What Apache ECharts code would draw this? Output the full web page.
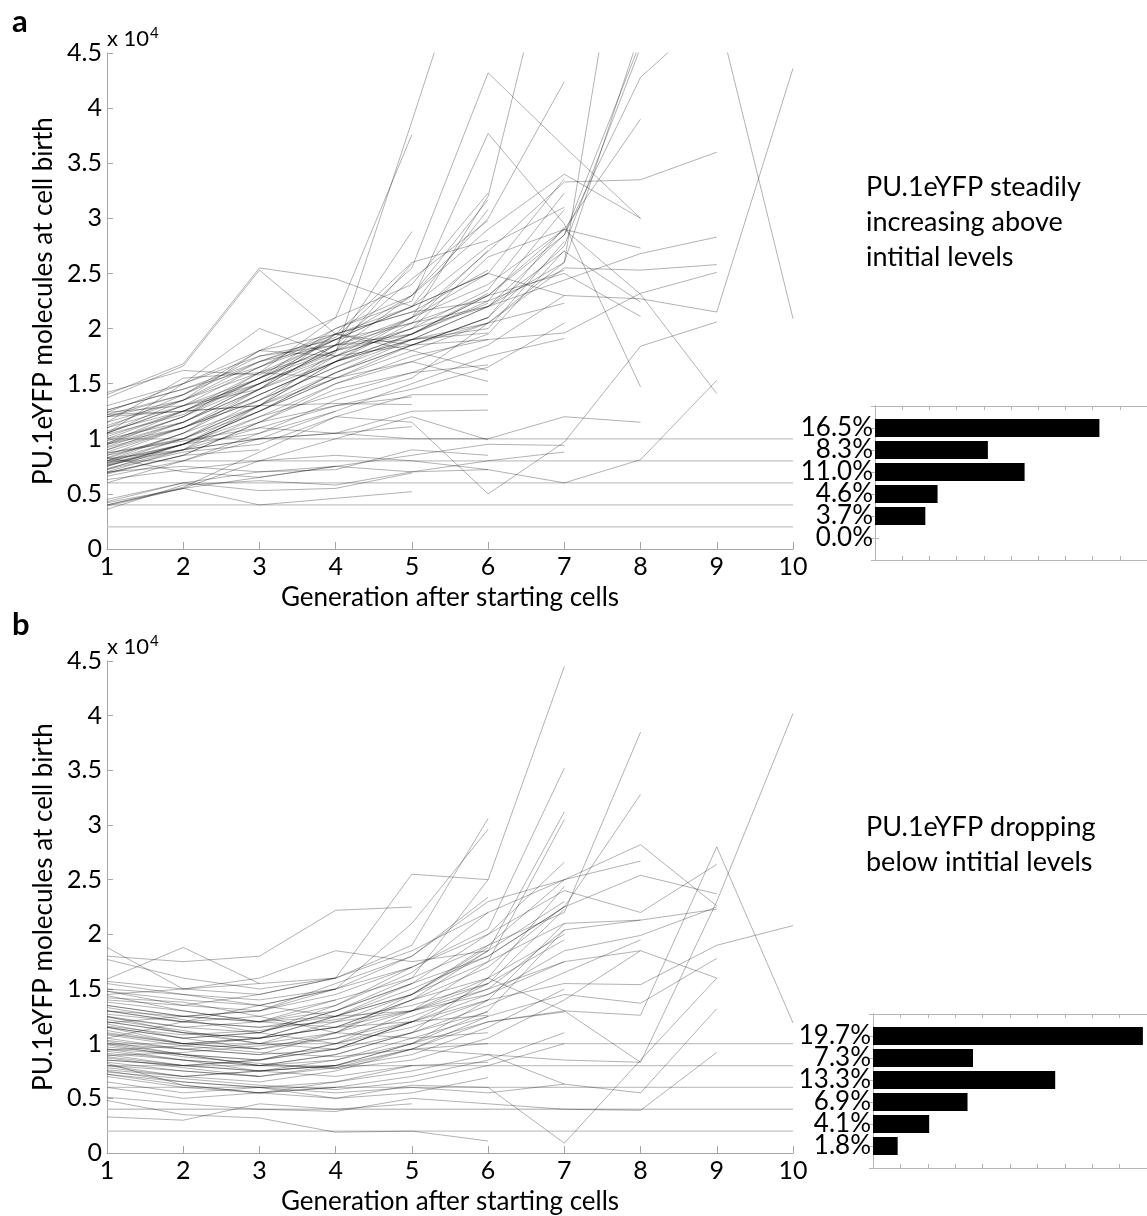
<!DOCTYPE html>
<html>
<head>
<meta charset="utf-8">
<script src="https://cdn.jsdelivr.net/npm/echarts@6/dist/echarts.min.js"></script>
<style>
html,body{margin:0;padding:0;background:#fff}
#main{width:1147px;height:1216px}
</style>
</head>
<body>
<div id="main"></div>
<script>
// generations on the x axis
var gens = [1, 2, 3, 4, 5, 6, 7, 8, 9, 10];
// grey reference levels (x 10^4 molecules)
var levels = [0.2, 0.4, 0.6, 0.8, 1.0];
// histogram percentages per 0.2 x 10^4 bin, bottom (0-0.2) to top (1.0-1.2)
var pctA = [0.0, 3.7, 4.6, 11.0, 8.3, 16.5];
var pctB = [1.8, 4.1, 6.9, 13.3, 7.3, 19.7];

// a: one trace per lineage, PU.1eYFP at birth (x 10^4), generation 1 onward
var linesA = [
  [1.40, 1.68, 2.55, 2.45, 2.20, 2.75, 3.10],
  [1.37, 1.66, 2.53, 1.95, 1.85, 2.10],
  [1.42, 1.62, 1.58, 1.90, 2.05, 2.30, 2.85, 4.28, 4.90, 2.09],
  [1.26, 1.45, 1.70, 1.92, 2.55, 4.32, 3.65, 3.00],
  [1.24, 1.30, 1.55, 2.00, 2.25, 3.77, 2.95, 1.47],
  [0.96, 1.20, 1.60, 2.10, 3.76],
  [1.05, 1.30, 1.50, 1.78, 3.88, 6.00],
  [0.90, 1.10, 1.40, 1.70, 2.10, 3.20, 6.00],
  [0.80, 1.00, 1.30, 1.60, 1.90, 2.20, 2.60, 6.80],
  [1.02, 1.25, 1.50, 1.75, 2.00, 2.20, 2.85, 4.60],
  [0.76, 0.95, 1.25, 1.60, 1.85, 2.10, 2.75, 4.55],
  [1.10, 1.30, 1.45, 1.70, 1.95, 2.30, 2.90, 3.90],
  [0.85, 1.10, 1.35, 1.65, 1.90, 2.05, 2.60, 4.70],
  [1.20, 1.40, 1.80, 1.75, 2.10, 2.70, 3.33, 3.35, 3.60],
  [0.93, 1.15, 1.45, 1.85, 2.05, 2.20, 2.44, 2.68, 2.83],
  [0.82, 1.05, 1.30, 1.55, 1.80, 2.05, 2.55, 2.53, 2.58],
  [0.70, 0.90, 1.20, 1.50, 1.75, 1.90, 1.96, 2.32, 2.51],
  [0.72, 0.88, 0.95, 1.20, 1.15, 0.50, 0.97, 1.84, 2.06],
  [0.63, 0.72, 0.80, 0.85, 0.80, 0.72, 0.60, 0.81, 1.53],
  [0.98, 1.20, 1.50, 1.80, 2.10, 2.40, 2.90, 2.31, 1.41],
  [1.15, 1.35, 1.65, 1.95, 2.20, 2.50, 2.30, 2.27, 2.15, 4.36],
  [0.87, 0.98, 1.10, 1.05, 1.00, 1.00, 1.20, 1.15],
  [1.07, 1.25, 1.60, 1.80, 2.30, 2.90, 3.40, 3.00],
  [0.95, 1.15, 1.45, 1.75, 2.00, 2.65, 2.90, 2.73],
  [0.79, 0.95, 1.30, 1.70, 1.90, 2.20, 2.70, 2.24],
  [1.04, 1.22, 1.55, 1.85, 1.95, 2.30, 2.50, 2.11],
  [1.12, 1.35, 1.60, 1.90, 2.30, 3.00, 4.24],
  [1.00, 1.25, 1.55, 1.85, 2.10, 2.50, 3.36],
  [0.90, 1.15, 1.50, 1.80, 2.00, 2.35, 3.23],
  [0.78, 1.00, 1.35, 1.65, 1.95, 2.25, 3.08],
  [0.75, 0.95, 1.25, 1.55, 1.85, 2.10, 2.92],
  [0.83, 1.05, 1.40, 1.70, 1.90, 2.00, 2.79],
  [0.69, 0.85, 1.15, 1.50, 1.70, 1.95, 2.71],
  [1.22, 1.40, 1.70, 1.95, 2.15, 2.25, 2.53],
  [0.77, 0.95, 1.20, 1.40, 1.60, 1.85, 2.30],
  [0.66, 0.80, 1.05, 1.35, 1.55, 2.05, 2.23],
  [0.73, 0.90, 1.10, 1.30, 1.45, 1.65, 2.05],
  [0.60, 0.80, 1.00, 1.25, 1.50, 1.75, 1.91],
  [0.45, 0.60, 0.70, 0.75, 0.85, 0.95, 0.94],
  [0.42, 0.55, 0.65, 0.75, 0.70, 0.80, 0.88],
  [1.30, 1.50, 1.80, 2.10, 2.40, 3.23],
  [1.05, 1.30, 1.65, 2.00, 2.30, 3.17],
  [0.95, 1.20, 1.55, 1.90, 2.20, 3.08],
  [0.88, 1.10, 1.45, 1.85, 2.45, 2.98],
  [1.20, 1.35, 1.80, 1.95, 2.60, 2.80],
  [0.85, 1.00, 1.30, 1.70, 2.05, 2.71],
  [0.80, 1.05, 1.45, 1.95, 2.15, 2.53],
  [1.10, 1.40, 1.75, 1.90, 2.20, 2.50],
  [0.76, 0.90, 1.30, 1.80, 1.95, 2.32],
  [0.92, 1.10, 1.40, 1.70, 1.95, 2.23],
  [0.72, 0.95, 1.25, 1.60, 1.85, 2.05],
  [1.24, 1.50, 1.75, 1.85, 1.90, 1.96],
  [0.68, 0.85, 1.15, 1.45, 1.60, 1.67],
  [1.00, 1.15, 1.50, 1.95, 1.80, 1.62],
  [0.87, 1.00, 1.25, 1.55, 1.70, 1.52],
  [0.40, 0.56, 0.88, 1.20, 1.40, 1.40],
  [0.82, 0.90, 1.00, 1.05, 1.25, 1.26],
  [0.39, 0.55, 0.80, 1.00, 1.20, 0.99],
  [0.70, 0.75, 0.70, 0.72, 0.90, 0.85],
  [0.36, 0.58, 0.62, 0.58, 0.70, 0.72],
  [1.05, 1.50, 2.00, 1.75, 1.85, 1.90],
  [1.05, 1.35, 1.70, 1.85, 2.88],
  [0.96, 1.25, 1.55, 1.80, 2.59],
  [0.80, 0.95, 1.15, 1.30, 1.38],
  [1.22, 1.25, 1.30, 1.32, 1.31],
  [0.78, 0.90, 1.00, 1.05, 1.11],
  [0.43, 0.60, 0.53, 0.55, 0.69],
  [0.40, 0.55, 0.40, 0.46, 0.52],
  [1.26, 1.45, 1.65, 1.90],
  [0.95, 1.10, 1.35, 1.75],
  [0.75, 0.95, 1.05, 1.25],
  [1.15, 1.55, 1.60, 1.55],
  [0.83, 0.70, 0.65, 0.75],
  [1.20, 1.25, 1.30],
  [0.69, 0.85, 0.90]
];

// b: same, for the lineages dropping below their initial level
var linesB = [
  [1.25, 1.10, 1.05, 1.15, 1.40, 1.60, 1.30, 1.26, 2.80, 1.19],
  [0.95, 0.90, 0.85, 1.00, 1.20, 1.40, 1.55, 1.54, 1.90, 2.08],
  [0.80, 0.75, 0.70, 0.80, 0.95, 0.90, 0.85, 0.83, 2.30, 4.02],
  [1.35, 1.25, 1.30, 1.45, 1.70, 2.00, 2.40, 2.20, 2.64],
  [1.15, 1.05, 1.10, 1.30, 1.55, 1.80, 2.25, 2.54, 2.37],
  [1.48, 1.35, 1.30, 1.50, 1.80, 2.30, 2.50, 2.82, 2.26],
  [1.05, 0.95, 1.00, 1.20, 1.45, 1.75, 2.10, 2.13, 2.23],
  [0.90, 0.80, 0.85, 0.95, 1.20, 1.45, 1.85, 1.99, 2.25],
  [0.76, 0.70, 0.75, 0.85, 1.05, 1.25, 1.45, 1.37, 1.78],
  [1.20, 1.10, 1.00, 1.10, 1.30, 1.50, 1.75, 1.85, 1.60],
  [0.70, 0.60, 0.55, 0.65, 0.75, 0.90, 0.63, 0.55, 1.32],
  [0.51, 0.45, 0.40, 0.38, 0.50, 0.45, 0.40, 0.39, 0.92],
  [1.30, 1.20, 1.25, 1.40, 1.60, 1.90, 2.20, 3.85],
  [1.10, 1.00, 1.05, 1.25, 1.50, 1.80, 2.25, 3.28],
  [1.57, 1.50, 1.45, 1.60, 1.85, 2.20, 2.50, 2.67],
  [0.85, 0.80, 0.75, 0.80, 1.00, 1.20, 1.30, 0.83],
  [1.00, 0.90, 0.80, 0.85, 1.00, 1.30, 2.04, 2.13],
  [0.72, 0.62, 0.55, 0.50, 0.62, 0.60, 0.09, 0.85, 1.60],
  [1.24, 1.15, 1.10, 1.30, 1.60, 2.50, 4.45],
  [1.44, 1.30, 1.20, 1.35, 1.70, 2.05, 3.52],
  [1.09, 1.00, 0.95, 1.10, 1.40, 1.85, 3.12],
  [0.97, 0.90, 0.85, 1.00, 1.30, 1.75, 3.05],
  [1.35, 1.25, 1.20, 1.30, 1.55, 2.00, 2.66],
  [1.30, 1.20, 1.15, 1.25, 1.45, 1.90, 2.50],
  [0.91, 0.85, 0.80, 0.90, 1.10, 1.60, 2.44],
  [1.20, 1.10, 1.05, 1.15, 1.40, 1.70, 2.26],
  [1.03, 0.95, 0.90, 0.95, 1.20, 1.55, 2.23],
  [0.85, 0.80, 0.75, 0.80, 1.00, 1.40, 2.10],
  [1.15, 1.00, 0.95, 1.05, 1.25, 1.50, 2.04],
  [0.80, 0.70, 0.65, 0.75, 0.95, 1.20, 1.29],
  [0.75, 0.65, 0.60, 0.55, 0.60, 0.55, 0.63],
  [1.59, 1.88, 1.55, 1.60, 1.90, 3.06],
  [1.48, 1.40, 1.35, 1.50, 2.10, 2.96],
  [1.77, 1.60, 1.50, 1.60, 2.55, 2.50],
  [1.30, 1.25, 1.30, 1.55, 1.80, 2.34],
  [1.15, 1.05, 1.10, 1.35, 1.65, 2.20],
  [1.00, 0.95, 0.90, 1.10, 1.45, 1.88],
  [1.88, 1.50, 1.60, 1.85, 1.75, 1.85],
  [0.95, 0.85, 0.80, 0.90, 1.10, 1.29],
  [1.38, 1.30, 1.20, 1.15, 1.20, 1.26],
  [0.78, 0.70, 0.75, 0.70, 0.80, 0.83],
  [0.65, 0.55, 0.60, 0.50, 0.55, 0.69],
  [0.48, 0.35, 0.32, 0.19, 0.20, 0.11],
  [1.12, 1.00, 1.05, 1.25, 1.55],
  [0.88, 0.80, 0.85, 0.95, 1.20],
  [0.72, 0.65, 0.60, 0.65, 0.80],
  [0.33, 0.30, 0.45, 0.40, 0.45],
  [1.55, 1.45, 1.40, 1.50, 1.70],
  [1.80, 1.75, 1.80, 2.22, 2.25],
  [1.25, 1.15, 1.20, 1.40],
  [0.93, 0.85, 0.75, 0.80],
  [1.40, 1.35, 1.45, 1.60],
  [0.60, 0.50, 0.55, 0.60],
  [1.05, 1.20, 1.35, 1.50],
  [1.18, 1.05, 0.95],
  [0.83, 0.75, 0.70],
  [1.45, 1.50, 1.55],
  [1.27, 1.20, 1.15, 1.20, 1.30, 1.45, 1.75],
  [1.22, 1.12, 1.00, 0.95, 1.10, 1.35, 1.65, 1.95],
  [1.02, 0.90, 0.80, 0.78, 0.90, 1.15, 1.50],
  [0.87, 0.78, 0.70, 0.78, 0.95, 1.25],
  [1.33, 1.22, 1.10, 1.00, 1.15, 1.40],
  [0.99, 0.88, 0.82, 0.77, 0.85, 1.05, 1.40, 1.85],
  [1.16, 1.08, 1.12, 1.22, 1.35, 1.55, 1.95],
  [0.74, 0.68, 0.62, 0.58, 0.65, 0.80, 1.00],
  [1.42, 1.38, 1.25, 1.10, 1.05, 1.10],
  [0.94, 0.98, 1.05, 1.15, 1.30, 1.60, 2.00],
  [1.08, 0.98, 0.92, 0.88, 0.95, 1.00],
  [0.82, 0.62, 0.55, 0.60, 0.70, 0.85, 1.10],
  [1.50, 1.45, 1.35, 1.25, 1.30, 1.55],
  [0.89, 0.92, 0.98, 1.05, 1.20],
  [1.19, 1.25, 1.20, 1.25, 1.45, 1.85, 2.30]
];

var FONT = 'Lato';
var AXIS_GREY = '#a6a6a6';
var BOX_GREY = '#b5b5b5';

function mainX(grid) {
  return {
    gridIndex: grid, type: 'value', min: 1, max: 10, interval: 1,
    name: 'Generation after starting cells', nameLocation: 'middle', nameGap: 36,
    nameTextStyle: {fontFamily: FONT, fontSize: 26, color: '#000'},
    axisLine: {lineStyle: {color: AXIS_GREY, width: 1}},
    axisTick: {inside: true, length: 7, lineStyle: {color: AXIS_GREY}},
    axisLabel: {fontFamily: FONT, fontSize: 25, color: '#000', margin: 5},
    splitLine: {show: false}
  };
}
function mainY(grid) {
  return {
    gridIndex: grid, type: 'value', min: 0, max: 4.5, interval: 0.5,
    name: 'PU.1eYFP molecules at cell birth', nameLocation: 'middle', nameGap: 42,
    nameTextStyle: {fontFamily: FONT, fontSize: 26, color: '#000'},
    axisLine: {show: true, lineStyle: {color: AXIS_GREY, width: 1}},
    axisTick: {show: true, inside: true, length: 6, lineStyle: {color: AXIS_GREY}},
    axisLabel: {fontFamily: FONT, fontSize: 25, color: '#000', margin: 5},
    splitLine: {show: false}
  };
}
function binCats(pct) {
  // one empty slot below and above so the box spans -0.1 .. 1.3
  return [''].concat(pct.map(function (p) { return p.toFixed(1) + '%'; })).concat(['']);
}
function barX(grid, pos) {
  return {
    gridIndex: grid, type: 'value', min: 0, max: 20, interval: 2, position: pos,
    axisLine: {show: true, lineStyle: {color: BOX_GREY}},
    axisTick: {show: true, inside: true, length: 4, lineStyle: {color: BOX_GREY}},
    axisLabel: {show: false}, splitLine: {show: false}
  };
}
function barY(grid, pct, pos) {
  return {
    gridIndex: grid, type: 'category', boundaryGap: false, position: pos,
    data: binCats(pct),
    axisLine: {show: true, lineStyle: {color: BOX_GREY}},
    axisTick: {show: true, inside: true, length: 4, interval: 0, lineStyle: {color: BOX_GREY}},
    axisLabel: {show: pos === 'left', interval: 0, fontFamily: FONT, fontSize: 26, color: '#000', margin: 2, lineHeight: 22},
    splitLine: {show: false}
  };
}

var series = [];
function addPanel(lines, xi, yi) {
  levels.forEach(function (lv) {
    series.push({
      type: 'line', xAxisIndex: xi, yAxisIndex: yi, symbol: 'none', silent: true,
      data: [[gens[0], lv], [gens[gens.length - 1], lv]],
      lineStyle: {color: '#c4c4c4', width: 1.3}
    });
  });
  lines.forEach(function (ln) {
    series.push({
      type: 'line', xAxisIndex: xi, yAxisIndex: yi, symbol: 'none', silent: true, clip: true,
      data: ln.map(function (v, i) { return [gens[i], v]; }),
      lineStyle: {color: 'rgba(0,0,0,0.3)', width: 1}
    });
  });
}
function addBars(pct, xi, yi) {
  series.push({
    type: 'bar', xAxisIndex: xi, yAxisIndex: yi, barWidth: 18, silent: true,
    data: ['-'].concat(pct).concat(['-']),
    itemStyle: {color: '#000'}
  });
}

addPanel(linesA, 0, 0);
addBars(pctA, 1, 1);
addPanel(linesB, 3, 3);
addBars(pctB, 4, 4);

function tenPow(top) {
  return {type: 'text', left: 107, top: top, style: {
    text: 'x 10{s|4}', fontFamily: FONT, fontSize: 22, fill: '#000',
    rich: {s: {fontFamily: FONT, fontSize: 15, verticalAlign: 'top', padding: [0, 0, 10, 1], fill: '#000'}}
  }};
}

var option = {
  animation: false,
  backgroundColor: '#fff',
  textStyle: {fontFamily: FONT},
  grid: [
    {left: 107, top: 53, width: 686, height: 496},
    {left: 875, top: 406, width: 274, height: 154},
    {left: 107, top: 661, width: 686, height: 496},
    {left: 873, top: 1014, width: 274, height: 154}
  ],
  xAxis: [
    mainX(0), barX(1, 'bottom'), barX(1, 'top'),
    mainX(2), barX(3, 'bottom'), barX(3, 'top')
  ],
  yAxis: [
    mainY(0), barY(1, pctA, 'left'), barY(1, pctA, 'right'),
    mainY(2), barY(3, pctB, 'left'), barY(3, pctB, 'right')
  ],
  series: series,
  graphic: [
    {type: 'text', left: 12, top: 6, style: {text: 'a', fontFamily: FONT, fontWeight: 'bold', fontSize: 31, fill: '#000'}},
    {type: 'text', left: 12, top: 609, style: {text: 'b', fontFamily: FONT, fontWeight: 'bold', fontSize: 31, fill: '#000'}},
    tenPow(26),
    tenPow(634),
    {type: 'text', left: 866, top: 170, style: {
      text: 'PU.1eYFP steadily\nincreasing above\nintitial levels',
      fontFamily: FONT, fontSize: 27, lineHeight: 35, fill: '#000'
    }},
    {type: 'text', left: 866, top: 810, style: {
      text: 'PU.1eYFP dropping\nbelow intitial levels',
      fontFamily: FONT, fontSize: 27, lineHeight: 35, fill: '#000'
    }}
  ]
};

var chart = echarts.init(document.getElementById('main'), null, {renderer: 'canvas'});
chart.setOption(option);
</script>
</body>
</html>
